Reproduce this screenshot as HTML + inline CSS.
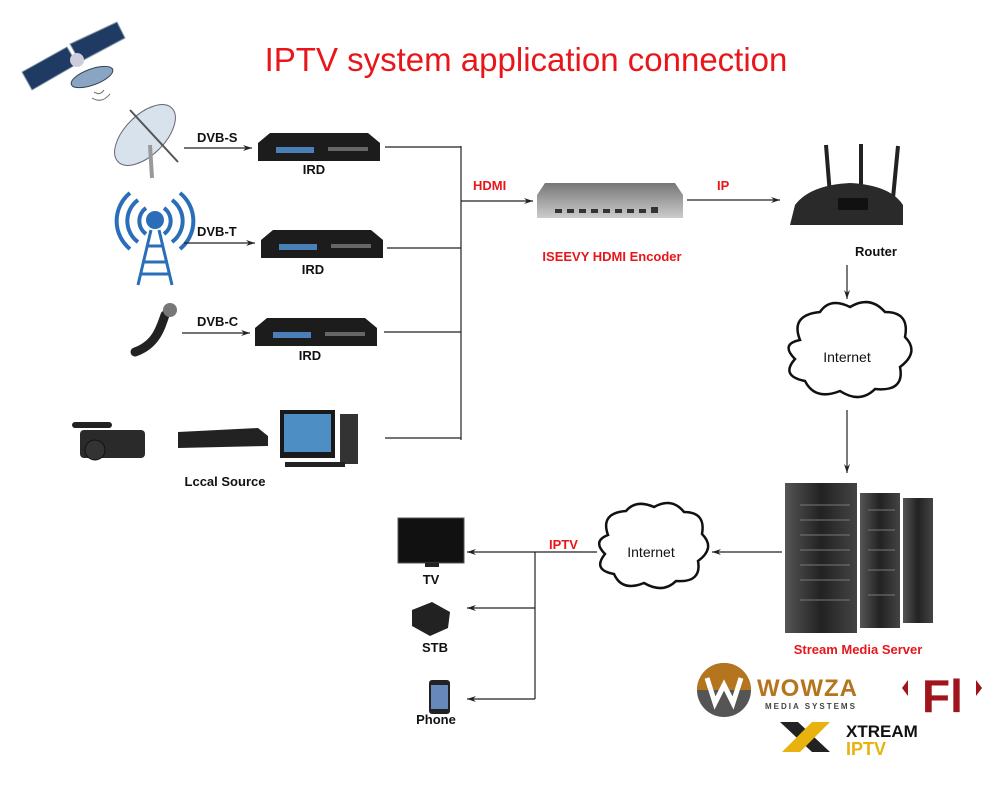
<!DOCTYPE html>
<html><head><meta charset="utf-8"><style>
html,body{margin:0;padding:0;background:#fff;}
svg{display:block;}
text{font-family:"Liberation Sans",Arial,sans-serif;}
</style></head><body>
<svg width="1000" height="803" viewBox="0 0 1000 803" xmlns="http://www.w3.org/2000/svg">
<defs>
<marker id="ar" markerWidth="10" markerHeight="8" refX="9" refY="4" orient="auto" markerUnits="userSpaceOnUse">
<path d="M0,1 L9,4 L0,7 L3,4 z" fill="#222"/></marker>
<linearGradient id="srv" x1="0" x2="1"><stop offset="0" stop-color="#555"/><stop offset="0.5" stop-color="#222"/><stop offset="1" stop-color="#444"/></linearGradient>
<linearGradient id="enc" x1="0" y1="0" x2="0" y2="1"><stop offset="0" stop-color="#777"/><stop offset="1" stop-color="#ccc"/></linearGradient>
</defs>

<text x="526" y="71" font-size="33" fill="#e8161a" text-anchor="middle">IPTV system application connection</text>

<!-- satellite -->
<g transform="translate(22,22)">
<polygon points="0,50 45,25 55,42 10,68" fill="#1f3b63" stroke="#89a" stroke-width="1"/>
<polygon points="48,22 95,0 103,16 58,40" fill="#1f3b63" stroke="#89a" stroke-width="1"/>
<circle cx="55" cy="38" r="7" fill="#ccd"/>
<ellipse cx="70" cy="55" rx="22" ry="8" fill="#8aa4c4" stroke="#345" transform="rotate(-20 70 55)"/>
<path d="M72,70 q6,4 10,-2 M70,76 q10,6 18,-4" stroke="#666" fill="none"/>
</g>

<!-- dish -->
<g>
<ellipse cx="145" cy="135" rx="38" ry="20" fill="#d8e2ec" stroke="#667" transform="rotate(-45 145 135)"/>
<line x1="150" y1="145" x2="152" y2="178" stroke="#999" stroke-width="4"/>
<line x1="130" y1="110" x2="178" y2="162" stroke="#555" stroke-width="2"/>
</g>
<!-- tower -->
<g fill="none" stroke="#2a6db8" stroke-width="4">
<path d="M146,208 a16,16 0 0 0 0,26"/><path d="M138,200 a26,26 0 0 0 0,42"/><path d="M130,193 a36,36 0 0 0 0,56"/>
<path d="M164,208 a16,16 0 0 1 0,26"/><path d="M172,200 a26,26 0 0 1 0,42"/><path d="M180,193 a36,36 0 0 1 0,56"/>
</g>
<circle cx="155" cy="220" r="9" fill="#2a6db8"/>
<path d="M151,230 L138,285 M159,230 L172,285 M142,262 L168,262 M140,274 L170,274 M146,246 L164,246" stroke="#2a6db8" stroke-width="3" fill="none"/>
<!-- cable -->
<path d="M135,352 C155,345 160,330 165,315" stroke="#222" stroke-width="9" fill="none" stroke-linecap="round"/>
<circle cx="170" cy="310" r="7" fill="#777"/>

<!-- labels + arrows -->
<g font-size="13" fill="#111" font-weight="bold">
<text x="197" y="142">DVB-S</text><text x="197" y="236">DVB-T</text><text x="197" y="326">DVB-C</text>
<text x="314" y="174" text-anchor="middle">IRD</text><text x="313" y="274" text-anchor="middle">IRD</text><text x="310" y="360" text-anchor="middle">IRD</text>
<text x="225" y="486" text-anchor="middle">Lccal Source</text>
<text x="876" y="256" text-anchor="middle">Router</text>
<text x="431" y="584" text-anchor="middle">TV</text>
<text x="435" y="652" text-anchor="middle">STB</text>
<text x="436" y="724" text-anchor="middle">Phone</text>
</g>
<g stroke="#222" stroke-width="1.2" fill="none">
<line x1="184" y1="148" x2="252" y2="148" marker-end="url(#ar)"/>
<line x1="184" y1="243" x2="255" y2="243" marker-end="url(#ar)"/>
<line x1="182" y1="333" x2="250" y2="333" marker-end="url(#ar)"/>
<line x1="385" y1="147" x2="461" y2="147"/>
<line x1="387" y1="248" x2="461" y2="248"/>
<line x1="384" y1="332" x2="461" y2="332"/>
<line x1="385" y1="438" x2="461" y2="438"/>
<line x1="461" y1="146" x2="461" y2="440"/>
<line x1="461" y1="201" x2="533" y2="201" marker-end="url(#ar)"/>
<line x1="687" y1="200" x2="780" y2="200" marker-end="url(#ar)"/>
<line x1="847" y1="265" x2="847" y2="299" marker-end="url(#ar)"/>
<line x1="847" y1="410" x2="847" y2="473" marker-end="url(#ar)"/>
<line x1="782" y1="552" x2="712" y2="552" marker-end="url(#ar)"/>
<line x1="597" y1="552" x2="535" y2="552"/>
<line x1="535" y1="552" x2="535" y2="699"/>
<line x1="535" y1="552" x2="467" y2="552" marker-end="url(#ar)"/>
<line x1="535" y1="608" x2="467" y2="608" marker-end="url(#ar)"/>
<line x1="535" y1="699" x2="467" y2="699" marker-end="url(#ar)"/>
</g>

<!-- IRDs -->
<g>
<g transform="translate(258,133)"><polygon points="12,0 110,0 122,10 122,28 0,28 0,10" fill="#1c1c1c"/><rect x="18" y="14" width="38" height="6" fill="#4a7fb8"/><rect x="70" y="14" width="40" height="4" fill="#666"/></g>
<g transform="translate(261,230)"><polygon points="12,0 110,0 122,10 122,28 0,28 0,10" fill="#1c1c1c"/><rect x="18" y="14" width="38" height="6" fill="#4a7fb8"/><rect x="70" y="14" width="40" height="4" fill="#666"/></g>
<g transform="translate(255,318)"><polygon points="12,0 110,0 122,10 122,28 0,28 0,10" fill="#1c1c1c"/><rect x="18" y="14" width="38" height="6" fill="#4a7fb8"/><rect x="70" y="14" width="40" height="4" fill="#666"/></g>
</g>

<!-- local source -->
<g>
<rect x="80" y="430" width="65" height="28" rx="4" fill="#2a2a2a"/><circle cx="95" cy="450" r="10" fill="#333" stroke="#111"/><rect x="72" y="422" width="40" height="6" rx="3" fill="#222"/>
<polygon points="178,432 258,428 268,436 268,446 178,448" fill="#222"/>
<rect x="280" y="410" width="55" height="48" fill="#1a1a1a"/><rect x="284" y="414" width="47" height="38" fill="#4d8fc4"/>
<rect x="340" y="414" width="18" height="50" fill="#333"/><rect x="285" y="462" width="60" height="5" fill="#222"/>
</g>

<g font-size="13" fill="#e8161a" font-weight="bold">
<text x="473" y="190">HDMI</text>
<text x="717" y="190">IP</text>
<text x="612" y="261" text-anchor="middle">ISEEVY HDMI Encoder</text>
<text x="549" y="549">IPTV</text>
<text x="858" y="654" text-anchor="middle">Stream Media Server</text>
</g>

<!-- encoder -->
<polygon points="545,183 675,183 683,195 683,218 537,218 537,195" fill="url(#enc)"/>
<g fill="#333"><rect x="555" y="209" width="7" height="4"/><rect x="567" y="209" width="7" height="4"/><rect x="579" y="209" width="7" height="4"/><rect x="591" y="209" width="7" height="4"/><rect x="603" y="209" width="7" height="4"/><rect x="615" y="209" width="7" height="4"/><rect x="627" y="209" width="7" height="4"/><rect x="639" y="209" width="7" height="4"/><rect x="651" y="207" width="7" height="6"/></g>

<!-- router -->
<g>
<line x1="826" y1="145" x2="830" y2="195" stroke="#222" stroke-width="4"/>
<line x1="861" y1="144" x2="861" y2="190" stroke="#222" stroke-width="4"/>
<line x1="898" y1="146" x2="893" y2="198" stroke="#222" stroke-width="4"/>
<path d="M795,205 Q810,185 850,183 Q890,185 903,205 L903,225 L790,225 Z" fill="#2a2a2a"/>
<rect x="838" y="198" width="30" height="12" fill="#111"/>
</g>

<!-- clouds -->
<g fill="#fff" stroke="#111" stroke-width="2.5">
<path d="M800,340 q-10,-25 20,-28 q10,-15 30,-5 q20,-12 35,5 q25,0 20,25 q15,15 -5,30 q5,25 -25,22 q-15,15 -35,2 q-25,10 -35,-10 q-25,-5 -10,-22 q-15,-15 5,-19 z"/>
<path d="M608,535 q-8,-22 18,-24 q10,-12 28,-4 q18,-10 30,5 q22,0 18,22 q14,14 -4,27 q4,22 -22,20 q-13,13 -32,2 q-22,9 -30,-9 q-22,-4 -9,-20 q-13,-13 3,-19 z"/>
</g>
<text x="847" y="362" font-size="14" text-anchor="middle" fill="#111">Internet</text>
<text x="651" y="557" font-size="14" text-anchor="middle" fill="#111">Internet</text>

<!-- servers -->
<g>
<rect x="785" y="483" width="72" height="150" fill="url(#srv)"/>
<rect x="860" y="493" width="40" height="135" fill="url(#srv)"/>
<rect x="903" y="498" width="30" height="125" fill="url(#srv)"/>
<g stroke="#777" stroke-width="1"><line x1="800" y1="505" x2="850" y2="505"/><line x1="800" y1="520" x2="850" y2="520"/><line x1="800" y1="535" x2="850" y2="535"/><line x1="800" y1="550" x2="850" y2="550"/><line x1="800" y1="565" x2="850" y2="565"/><line x1="800" y1="580" x2="850" y2="580"/><line x1="800" y1="600" x2="850" y2="600"/><line x1="868" y1="510" x2="895" y2="510"/><line x1="868" y1="530" x2="895" y2="530"/><line x1="868" y1="550" x2="895" y2="550"/><line x1="868" y1="570" x2="895" y2="570"/><line x1="868" y1="595" x2="895" y2="595"/></g>
</g>

<!-- TV, STB, phone -->
<rect x="398" y="518" width="66" height="45" fill="#111" stroke="#555"/><rect x="425" y="563" width="14" height="4" fill="#222"/>
<polygon points="412,610 432,602 450,612 448,628 430,636 412,626" fill="#222"/>
<rect x="429" y="680" width="21" height="34" rx="3" fill="#222"/><rect x="431" y="685" width="17" height="24" fill="#6688bb"/>

<!-- logos -->
<circle cx="724" cy="690" r="27" fill="#555"/><path d="M697,690 a27,27 0 0 1 54,0 z" fill="#b5741e"/>
<path d="M707,678 l8,25 l9,-18 l9,18 l8,-25" stroke="#fff" stroke-width="5" fill="none"/>
<text x="757" y="696" font-size="24" font-weight="bold" fill="#b5741e" letter-spacing="1">WOWZA</text>
<text x="765" y="709" font-size="8" font-weight="bold" fill="#444" letter-spacing="2">MEDIA SYSTEMS</text>
<text x="922" y="712" font-size="46" font-weight="bold" fill="#a0141c" font-family="Liberation Serif,serif">Fl</text>
<polygon points="902,688 908,680 908,696" fill="#a0141c"/><polygon points="982,688 976,680 976,696" fill="#a0141c"/>
<polygon points="780,722 798,722 830,752 812,752" fill="#222"/><polygon points="812,722 830,722 800,752 782,752" fill="#e8b20f"/>
<text x="846" y="737" font-size="17" font-weight="bold" fill="#111">XTREAM</text>
<text x="846" y="755" font-size="18" font-weight="bold" fill="#e8b20f">IPTV</text>
</svg>
</body></html>
